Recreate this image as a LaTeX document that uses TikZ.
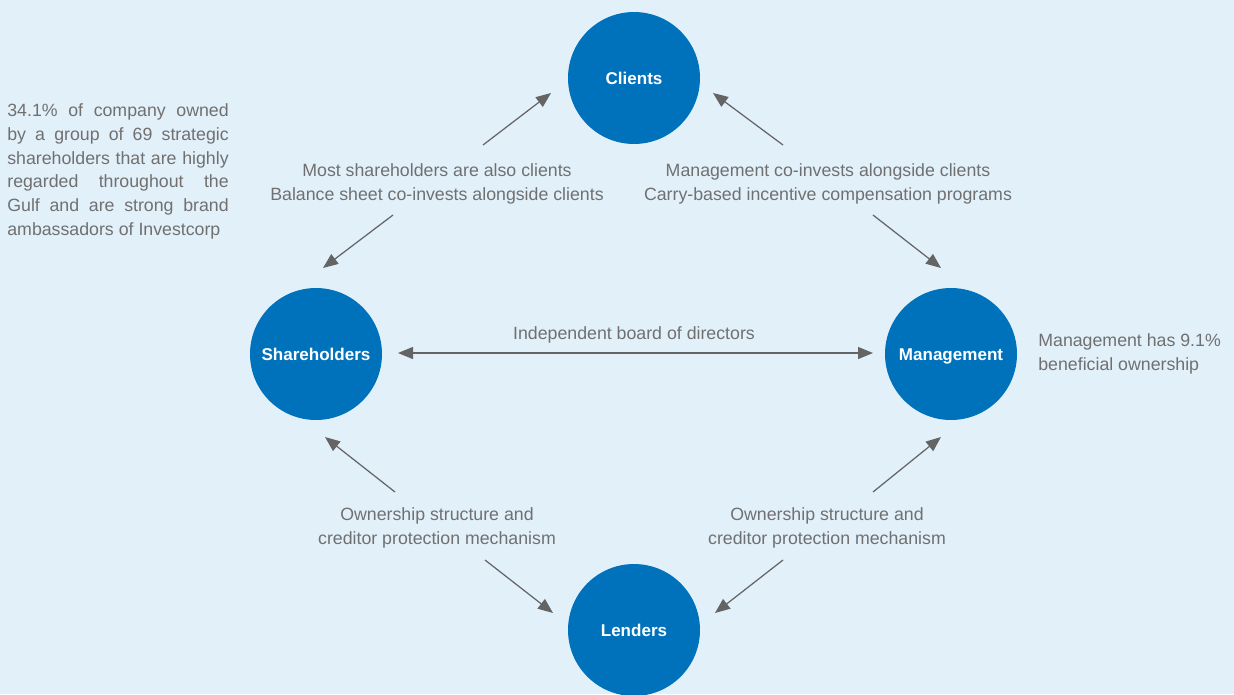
\documentclass[tikz,border=0pt]{standalone}
\usepackage{fontspec}
\setmainfont{Liberation Sans}
\usetikzlibrary{arrows.meta}
\definecolor{bgblue}{RGB}{226,240,250}
\definecolor{circblue}{RGB}{0,114,188}
\definecolor{txtgrey}{RGB}{112,112,112}
\definecolor{arrgrey}{RGB}{100,100,100}
\newcommand{\jline}[1]{\makebox[126pt][s]{#1}}
\begin{document}
\begin{tikzpicture}[x=0.02cm,y=-0.02cm,
  entity/.style={circle,fill=circblue,minimum size=2.64cm,inner sep=0pt,text=white,font=\fontsize{9.7}{11}\selectfont\bfseries},
  ctext/.style={text=white,font=\fontsize{9.7}{11}\selectfont\bfseries,inner sep=0pt,text height=7pt,text depth=0pt},
  lbl/.style={text=txtgrey,font=\fontsize{10.1}{13.6}\selectfont,align=center,inner sep=0pt},
  conn/.style={draw=arrgrey,line width=0.7pt,-{Triangle[length=0.3cm,width=0.24cm]}},
  dconn/.style={draw=arrgrey,line width=0.7pt,{Triangle[length=0.3cm,width=0.24cm]}-{Triangle[length=0.3cm,width=0.24cm]}}]
\fill[bgblue] (0,0) rectangle (1234,694);
\useasboundingbox (0,0) rectangle (1234,694);
\node[entity] (clients) at (634,78) {};
\node[entity] (share) at (316,354) {};
\node[entity] (mgmt) at (951,354) {};
\node[entity] (lend) at (634,630) {};
\node[ctext] at (clients.center) {Clients};
\node[ctext] at (share.center) {Shareholders};
\node[ctext] at (mgmt.center) {Management};
\node[ctext] at (lend.center) {Lenders};
% text
\node[lbl,align=left,anchor=north west] (lefttxt) at (7,103) {\jline{34.1\% of company owned}\\\jline{by a group of 69 strategic}\\\jline{shareholders that are highly}\\\jline{regarded throughout the}\\\jline{Gulf and are strong brand}\\ambassadors of Investcorp};
\node[lbl,align=left,anchor=north west] (righttxt) at (1038,333) {Management has 9.1\%\\beneficial ownership};
\node[lbl] (tl) at (437,184) {Most shareholders are also clients\\Balance sheet co-invests alongside clients};
\node[lbl] (tr) at (828,184) {Management co-invests alongside clients\\Carry-based incentive compensation programs};
\node[lbl] (mid) at (634,335) {Independent board of directors};
\node[lbl] (bl) at (437,528) {Ownership structure and\\creditor protection mechanism};
\node[lbl] (br) at (827,528) {Ownership structure and\\creditor protection mechanism};
% coordinates
\coordinate (a1s) at (483,145); \coordinate (a1e) at (551,93);
\coordinate (a2s) at (393,215); \coordinate (a2e) at (323,268);
\coordinate (a3s) at (783,145); \coordinate (a3e) at (713,93);
\coordinate (a4s) at (873,215); \coordinate (a4e) at (941,268);
\coordinate (h1) at (398,353); \coordinate (h2) at (873,353);
\coordinate (b1s) at (395,492); \coordinate (b1e) at (325,437);
\coordinate (b2s) at (485,560); \coordinate (b2e) at (553,613);
\coordinate (b3s) at (873,492); \coordinate (b3e) at (941,437);
\coordinate (b4s) at (783,560); \coordinate (b4e) at (715,613);
\draw[conn] (a1s) -- (a1e);
\draw[conn] (a2s) -- (a2e);
\draw[conn] (a3s) -- (a3e);
\draw[conn] (a4s) -- (a4e);
\draw[dconn] (h1) -- (h2);
\draw[conn] (b1s) -- (b1e);
\draw[conn] (b2s) -- (b2e);
\draw[conn] (b3s) -- (b3e);
\draw[conn] (b4s) -- (b4e);
\end{tikzpicture}
\end{document}
